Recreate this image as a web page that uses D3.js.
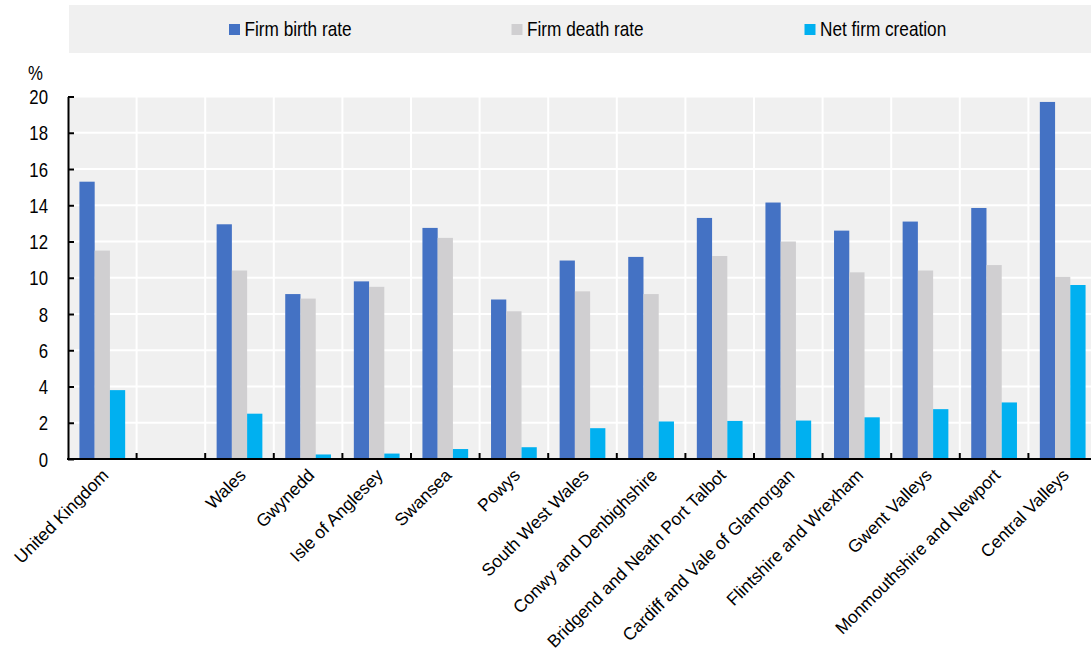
<!DOCTYPE html>
<html>
<head>
<meta charset="utf-8">
<script src="https://cdn.jsdelivr.net/npm/d3@7"></script>
<style>
  html, body { margin: 0; padding: 0; background: #fff; }
  svg text { font-family: "Liberation Sans", Arial, sans-serif; fill: #000; }
</style>
</head>
<body>
<svg id="chart" width="1091" height="651"></svg>
<script>
// ---- data ----
const categories = ["United Kingdom", "", "Wales", "Gwynedd", "Isle of Anglesey", "Swansea", "Powys",
  "South West Wales", "Conwy and Denbighshire", "Bridgend and Neath Port Talbot",
  "Cardiff and Vale of Glamorgan", "Flintshire and Wrexham", "Gwent Valleys",
  "Monmouthshire and Newport", "Central Valleys"];
const seriesNames = ["Firm birth rate", "Firm death rate", "Net firm creation"];
const birthRate = [15.3, null, 12.95, 9.1, 9.8, 12.75, 8.8, 10.95, 11.15, 13.3, 14.15, 12.6, 13.1, 13.85, 19.7];
const deathRate = [11.5, null, 10.4, 8.85, 9.5, 12.2, 8.15, 9.25, 9.1, 11.2, 12.0, 10.3, 10.4, 10.7, 10.05];
const netCreation = [3.8, null, 2.5, 0.25, 0.3, 0.55, 0.65, 1.7, 2.07, 2.1, 2.12, 2.3, 2.75, 3.12, 9.6];
const yTicks = [0, 2, 4, 6, 8, 10, 12, 14, 16, 18, 20];
const colors = ["#4472C4", "#D0CFD1", "#00B0F0"];

(function () {
const seriesValues = [birthRate, deathRate, netCreation];
const idx = categories.map((c, i) => i);

const svg = d3.select("#chart");
const pLeft = 68, pRight = 1097, pTop = 96.5, pBottom = 459;

const x0 = d3.scaleBand().domain(idx).range([pLeft, pRight]).padding(0);
const x1 = d3.scaleBand().domain(d3.range(seriesNames.length)).range([0, x0.bandwidth()]).paddingInner(0).paddingOuter(0.75);
const y = d3.scaleLinear().domain([0, 20]).range([pBottom, pTop]);

// ---- legend ----
const legend = svg.append("g");
legend.append("rect").attr("x", 69).attr("y", 5).attr("width", 1091 - 69).attr("height", 48).attr("fill", "#F0F0F0");
const legendX = [229, 511.5, 804.5];
seriesNames.forEach((name, i) => {
  const g = legend.append("g").attr("transform", `translate(${legendX[i]},0)`);
  g.append("rect").attr("x", 0).attr("y", 24).attr("width", 11).attr("height", 11).attr("fill", colors[i]);
  g.append("text").attr("transform", "translate(15.5,35.5) scale(0.82,1)")
    .attr("font-size", 21).text(name);
});

// ---- plot background ----
svg.append("rect").attr("x", pLeft).attr("y", pTop).attr("width", pRight - pLeft).attr("height", pBottom - pTop).attr("fill", "#F0F0F0");

// horizontal gridlines
svg.append("g").selectAll("line").data(yTicks.filter(t => t > 0)).join("line")
  .attr("x1", pLeft).attr("x2", pRight)
  .attr("y1", d => y(d)).attr("y2", d => y(d))
  .attr("stroke", "#fff").attr("stroke-width", 2);

// vertical gridlines at slot boundaries
svg.append("g").selectAll("line").data(idx.slice(1)).join("line")
  .attr("x1", d => x0(d)).attr("x2", d => x0(d))
  .attr("y1", pTop).attr("y2", pBottom)
  .attr("stroke", "#fff").attr("stroke-width", 2);

// ---- bars ----
const groups = svg.append("g").selectAll("g").data(idx).join("g")
  .attr("transform", d => `translate(${x0(d)},0)`);
groups.selectAll("rect")
  .data(i => seriesValues.map((arr, s) => ({ s, v: arr[i] })).filter(d => d.v != null))
  .join("rect")
  .attr("x", d => x1(d.s))
  .attr("width", x1.bandwidth())
  .attr("y", d => y(d.v))
  .attr("height", d => y(0) - y(d.v))
  .attr("fill", d => colors[d.s]);

// ---- y axis ----
const yAxis = svg.append("g").attr("transform", `translate(${pLeft},0)`)
  .call(d3.axisLeft(y).tickValues(yTicks).tickSizeInner(-6).tickSizeOuter(0).tickPadding(0));
yAxis.select(".domain").attr("stroke", "#000").attr("stroke-width", 2);
yAxis.selectAll(".tick line").attr("stroke", "#000").attr("stroke-width", 2);
yAxis.selectAll(".tick text")
  .attr("x", 0).attr("dy", "0.36em")
  .attr("transform", "translate(-20,0) scale(0.84,1)")
  .attr("text-anchor", "end")
  .attr("font-size", 20).attr("font-family", null);

svg.append("text").attr("transform", "translate(28,80) scale(0.84,1)")
  .attr("font-size", 20).text("%");

// ---- x axis ----
const xAxis = svg.append("g").attr("transform", `translate(0,${pBottom})`)
  .call(d3.axisBottom(x0).tickSize(0).tickFormat(i => categories[i]));
xAxis.select(".domain").remove();
xAxis.selectAll(".tick text")
  .attr("x", 0).attr("y", 0).attr("dy", "0.35em")
  .attr("transform", "translate(3,13) rotate(-45)")
  .attr("text-anchor", "end")
  .attr("font-size", 17.5).attr("font-family", null);

// boundary ticks (upward)
svg.append("g").selectAll("line").data(idx.slice(1)).join("line")
  .attr("x1", d => x0(d)).attr("x2", d => x0(d))
  .attr("y1", pBottom).attr("y2", pBottom - 6)
  .attr("stroke", "#000").attr("stroke-width", 2);
svg.append("line").attr("x1", pLeft - 1).attr("x2", pRight).attr("y1", pBottom).attr("y2", pBottom)
  .attr("stroke", "#000").attr("stroke-width", 2);
})();
</script>
</body>
</html>
